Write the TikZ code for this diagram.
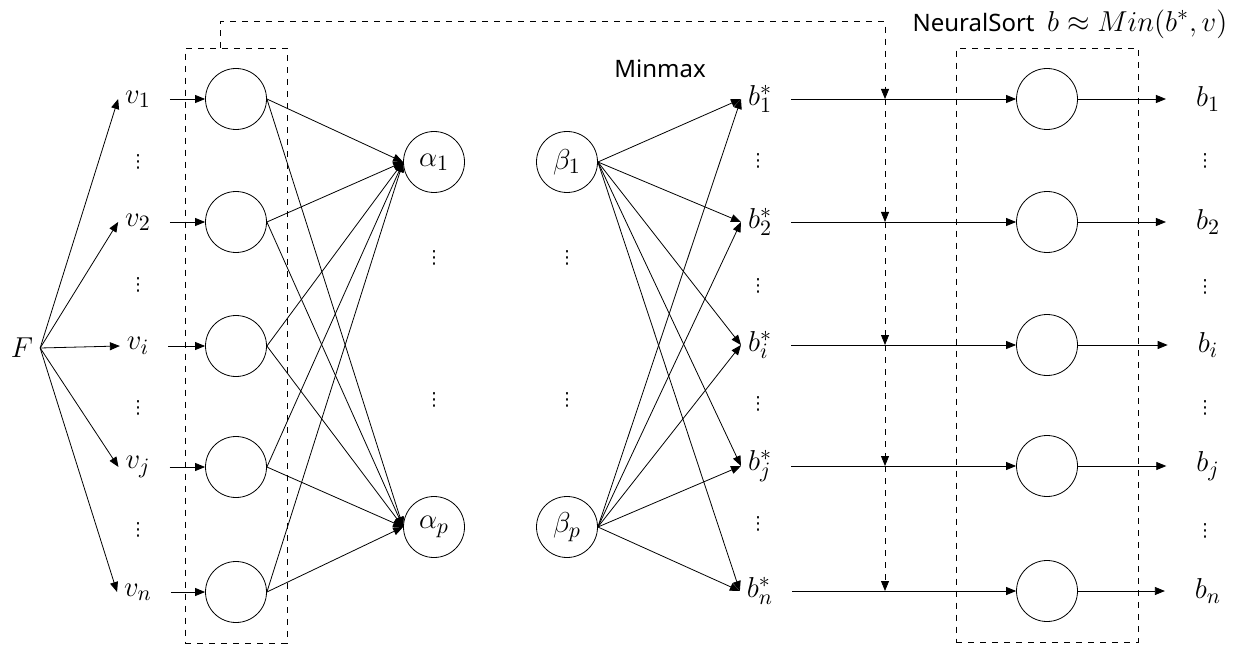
\documentclass[tikz,border=0pt]{standalone}
\usepackage{fontspec}
\setsansfont{Noto Sans}
\newfontfamily\dotsfont{DejaVu Sans}
\usepackage{tikz}
\usetikzlibrary{arrows.meta,positioning,fit}
\newcommand{\mathsize}{\fontsize{15}{17}\selectfont}
\newcommand{\textsize}{\fontsize{12}{14}\selectfont}

\begin{document}
\begin{tikzpicture}[x=0.5pt,y=-0.5pt,
    neuron/.style={circle,draw,minimum size=30.5pt,inner sep=0pt,font=\mathsize},
    lab/.style={font=\mathsize},
    dotlab/.style={inner sep=0pt,font=\dotsfont\fontsize{9}{10}\selectfont},
    arr/.style={-{Triangle[length=5pt,width=4pt]}},
    dbox/.style={draw,dashed,inner ysep=10pt},
  ]
    \useasboundingbox (0,0) rectangle (1251,663);
    % input side
    \node[lab] (F) at (22,348) {$F$};
    \foreach \i/\y in {1/99,2/222,i/346,j/467,n/592} {
      \node[lab] (v\i) at (138,\y) {$v_{\i}$};
      \node[neuron] (h\i) at (236,\y) {};
    }
    \foreach \y in {162,285,408,530}
      \node[dotlab] (vd\y) at (138,\y) {⋮};
    \node[dbox,inner xsep=10pt,fit=(h1)(hn)] (lbox) {};
    % alpha / beta
    \node[neuron] (a1) at (434,162) {$\alpha_1$};
    \node[neuron] (ap) at (434,527) {$\alpha_p$};
    \node[neuron] (be1) at (567,162) {$\beta_1$};
    \node[neuron] (bep) at (567,527) {$\beta_p$};
    \foreach \x in {434,567}
      \foreach \y in {258,400}
        \node[dotlab] (md\x\y) at (\x,\y) {⋮};
    \node[font=\sffamily\textsize] (minmax) at (660,69) {Minmax};
    % sort side
    \foreach \i/\y in {1/99,2/222,i/345,j/466,n/591} {
      \node[lab] (bs\i) at (760,\y) {$b^*_{\i}$};
      \coordinate (c\i) at (885,\y);
      \node[neuron] (s\i) at (1047,\y) {};
      \node[lab] (b\i) at (1208,\y) {$b_{\i}$};
    }
    \foreach \y in {161,286,404,524}
      \node[dotlab] (bsd\y) at (758,\y) {⋮};
    \foreach \y in {161,287,408,531}
      \node[dotlab] (bd\y) at (1205,\y) {⋮};
    \node[dbox,inner xsep=30pt,fit=(s1)(sn)] (rbox) {};
    \node[font=\textsize] (nsort) at (1070,24)
      {\sffamily NeuralSort\ \ \mathsize$b\approx Min(b^*,v)$};
    % connections
    \foreach \i in {1,2,i,j,n} {
      \draw[arr] (F.east) -- (v\i.west);
      \draw[arr,shorten <=6pt] (v\i.east) -- (h\i.west);
      \draw[arr] (h\i.east) -- (a1.west);
      \draw[arr] (h\i.east) -- (ap.west);
      \draw[arr] (be1.east) -- (bs\i.west);
      \draw[arr] (bep.east) -- (bs\i.west);
      \draw[arr,shorten <=6pt] (bs\i.east) -- (s\i.west);
      \draw[arr,shorten >=11.5pt] (s\i.east) -- (b\i.west);
    }
    \draw[dashed,arr] ([xshift=-8pt]lbox.north) -- ++(0,-26) -| (c1);
    \foreach \from/\to in {1/2,2/i,i/j,j/n}
      \draw[dashed,arr] (c\from) -- (c\to);
  \end{tikzpicture}
\end{document}
